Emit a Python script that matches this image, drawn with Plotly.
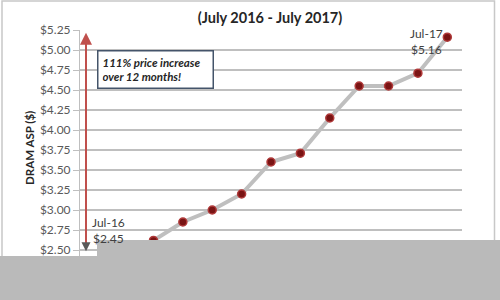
import plotly.graph_objects as go

months = ["Jul-16", "Aug-16", "Sep-16", "Oct-16", "Nov-16", "Dec-16",
          "Jan-17", "Feb-17", "Mar-17", "Apr-17", "May-17", "Jul-17"]
asp = [2.45, 2.62, 2.85, 3.00, 3.20, 3.60, 3.71, 4.15, 4.55, 4.55, 4.71, 5.16]
title_text = "(July 2016 - July 2017)"
box_text = "<b><i>111% price increase<br>over 12 months!</i></b>"

FONT = "Lato, 'Liberation Sans', sans-serif"
W, H = 500, 300
L, R, T, B = 80, 38, 30, 30
pw, ph = W - L - R, H - T - B

def px(x):  # pixel x -> paper
    return (x - L) / pw

def py(y):  # pixel y -> paper
    return (H - B - y) / ph

fig = go.Figure()
fig.add_trace(go.Scatter(
    x=list(range(len(months))), y=asp, mode="lines+markers",
    line=dict(color="#bfbfbf", width=4),
    marker=dict(size=8, color="#7a1414", line=dict(color="#b03a3a", width=1.5)),
    hoverinfo="skip", showlegend=False, cliponaxis=False))

xr = [-1.5, len(months) - 0.5]
unit = pw / (xr[1] - xr[0])
arrow_x = xr[0] + 6 / unit

fig.update_layout(
    width=W, height=H, margin=dict(l=L, r=R, t=T, b=B, autoexpand=False),
    paper_bgcolor="white", plot_bgcolor="white",
    font=dict(family=FONT, color="#595959", size=12),
    title=dict(text="<b>" + title_text + "</b>", x=0.54, xanchor="center",
               y=1 - 18 / H, yanchor="middle",
               font=dict(family=FONT, size=14.5, color="#262626")),
    xaxis=dict(range=xr, tickmode="array", tickvals=list(range(len(months))),
               ticktext=months, showgrid=False, zeroline=False,
               showline=False, tickfont=dict(size=8.5), tickangle=0,
               automargin=False),
    yaxis=dict(range=[2.25, 5.25], dtick=0.25, tick0=2.25, tickprefix="$",
               tickformat=".2f", showgrid=True, gridcolor="#bfbfbf",
               gridwidth=2, zeroline=False, showline=True,
               linecolor="#bfbfbf", linewidth=1, ticks="outside",
               ticklen=6, tickcolor="#bfbfbf", automargin=False,
               tickfont=dict(size=12, color="#595959")),
)

ann = []
# y-axis title
ann.append(dict(xref="paper", yref="paper", x=px(29), y=py(148),
                xanchor="center", yanchor="middle",
                text="<b>DRAM ASP ($)</b>", textangle=-90, showarrow=False,
                font=dict(size=11.5, color="#262626")))
# red arrow
ann.append(dict(xref="x", yref="y", axref="x", ayref="y",
                x=arrow_x, y=5.215, ax=arrow_x, ay=2.53, text="",
                showarrow=True, arrowhead=2, arrowsize=1.2, arrowwidth=2,
                arrowcolor="#c0504d"))
ann.append(dict(xref="x", yref="y", axref="x", ayref="y",
                x=arrow_x, y=2.485, ax=arrow_x, ay=2.56, text="",
                showarrow=True, arrowhead=2, arrowsize=1.2, arrowwidth=1.5,
                arrowcolor="#595959"))
# text box
ann.append(dict(xref="paper", yref="paper", x=px(97), y=py(50),
                xanchor="left", yanchor="top", text=box_text, align="left",
                showarrow=False, bgcolor="white", bordercolor="#44546a",
                borderwidth=1.5, borderpad=4, width=106,
                font=dict(size=11.5, color="#262626")))
# data labels
ann.append(dict(xref="x", yref="y", x=len(months) - 1, y=asp[-1],
                text=months[-1] + "<br>$" + f"{asp[-1]:.2f}",
                showarrow=False, xanchor="center", yanchor="middle",
                xshift=-21, yshift=-4, font=dict(size=12, color="#404040")))
ann.append(dict(xref="x", yref="y", x=0, y=asp[0],
                text=months[0] + "<br>$" + f"{asp[0]:.2f}",
                showarrow=False, xanchor="center", yanchor="middle",
                xshift=-16, yshift=24, font=dict(size=12, color="#404040")))
fig.update_layout(annotations=ann)

shapes = []
# outer frame
shapes.append(dict(type="rect", xref="paper", yref="paper",
                   x0=px(2), x1=px(494.5), y0=py(300), y1=py(1),
                   line=dict(color="#c8c8c8", width=1.5), layer="above"))
# occluding band at bottom
mask = "#bababa"
shapes.append(dict(type="rect", xref="paper", yref="paper",
                   x0=px(0), x1=px(97), y0=py(300), y1=py(256),
                   fillcolor=mask, line=dict(width=0), layer="above"))
shapes.append(dict(type="rect", xref="paper", yref="paper",
                   x0=px(97), x1=px(500), y0=py(300), y1=py(240),
                   fillcolor=mask, line=dict(width=0), layer="above"))
fig.update_layout(shapes=shapes)

fig.write_html("out.html")
